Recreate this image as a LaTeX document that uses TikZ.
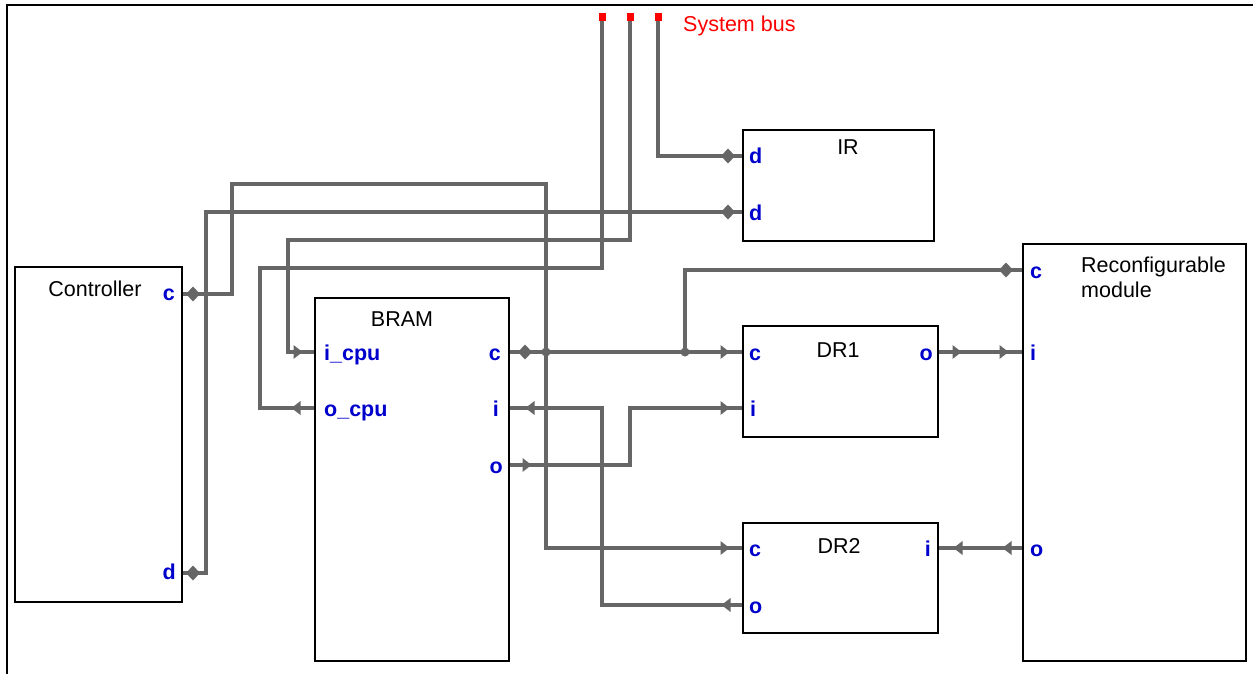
\documentclass[tikz,border=0pt]{standalone}
\usepackage{fontspec}
\setmainfont{Liberation Sans}
\usetikzlibrary{calc}
\definecolor{wiregray}{RGB}{102,102,102}
\definecolor{portblue}{RGB}{0,0,204}
\definecolor{busred}{RGB}{255,0,0}

\begin{document}
\begin{tikzpicture}[x=1pt, y=-1pt,
	blk/.style={draw, line width=2pt, rectangle, inner sep=0pt, anchor=north west},
	blkname/.style={font=\fontsize{21.5}{25}\selectfont, inner sep=0pt, anchor=base},
	portl/.style={font=\fontsize{21.5}{25}\selectfont\bfseries, text=portblue, inner sep=0pt, anchor=base west},
	portr/.style={portl, anchor=base east},
	wire/.style={draw=wiregray, line width=4.2pt},
	busend/.style={fill=busred, minimum width=7pt, minimum height=8pt, inner sep=0pt},
	rarr/.pic={\fill[wiregray] (-4.5,-7) -- (4.5,0) -- (-4.5,7) -- cycle;},
	larr/.pic={\fill[wiregray] (4.5,-7) -- (-4.5,0) -- (4.5,7) -- cycle;},
	dmd/.pic={\fill[wiregray] (-7,0) -- (0,-7.5) -- (7,0) -- (0,7.5) -- cycle;}]
	\useasboundingbox (0,0) rectangle (1253,674);

	% Frame
	\draw[line width=2pt] (7,674) -- (7,5) -- (1253,5);

	% Blocks
	\node[blk, minimum width=167pt, minimum height=335pt] (ctrl) at (14,266) {};
	\node[blk, minimum width=194pt, minimum height=363pt] (bram) at (314,297) {};
	\node[blk, minimum width=191pt, minimum height=111pt] (ir) at (742,129) {};
	\node[blk, minimum width=195pt, minimum height=111pt] (dr1) at (742,325) {};
	\node[blk, minimum width=195pt, minimum height=110pt] (dr2) at (742,522) {};
	\node[blk, minimum width=223pt, minimum height=417pt] (rm) at (1022,243) {};

	% Block names
	\node[blkname] (ctrl-name) at (95,296) {Controller};
	\node[blkname] (bram-name) at (402,326) {BRAM};
	\node[blkname] (ir-name) at (848,154) {IR};
	\node[blkname] (dr1-name) at (838,357) {DR1};
	\node[blkname] (dr2-name) at (839,553) {DR2};
	\node[blkname, anchor=base west, align=left] (rm-name) at (1081,297) {Reconfigurable\\module};

	% System bus
	\node[busend] (bus1) at (602,17) {};
	\node[busend] (bus2) at (630,17) {};
	\node[busend] (bus3) at (658,17) {};
	\node[blkname, anchor=base west, text=busred] (bus-name) at (683,32) {System bus};

	% Ports
	\coordinate (ctrl-c) at (ctrl.east |- 0,294);
	\coordinate (ctrl-d) at (ctrl.east |- 0,573);
	\coordinate (bram-icpu) at (bram.west |- 0,352);
	\coordinate (bram-ocpu) at (bram.west |- 0,408);
	\coordinate (bram-c) at (bram.east |- 0,352);
	\coordinate (bram-i) at (bram.east |- 0,408);
	\coordinate (bram-o) at (bram.east |- 0,465);
	\coordinate (ir-d1) at (ir.west |- 0,156);
	\coordinate (ir-d2) at (ir.west |- 0,212);
	\coordinate (dr1-c) at (dr1.west |- 0,352);
	\coordinate (dr1-i) at (dr1.west |- 0,408);
	\coordinate (dr1-o) at (dr1.east |- 0,352);
	\coordinate (dr2-c) at (dr2.west |- 0,548);
	\coordinate (dr2-o) at (dr2.west |- 0,605);
	\coordinate (dr2-i) at (dr2.east |- 0,548);
	\coordinate (rm-c) at (rm.west |- 0,270);
	\coordinate (rm-i) at (rm.west |- 0,352);
	\coordinate (rm-o) at (rm.west |- 0,548);
	\coordinate (j1) at (546,352);
	\coordinate (j2) at (685,352);

	% Port labels
	\node[portr] (ctrl-cl) at ($(ctrl-c)+(-8,6)$) {c};
	\node[portr] (ctrl-dl) at ($(ctrl-d)+(-7,6)$) {d};
	\node[portl] (bram-icpul) at ($(bram-icpu)+(10,8)$) {i\_cpu};
	\node[portl] (bram-ocpul) at ($(bram-ocpu)+(10,8)$) {o\_cpu};
	\node[portr] (bram-cl) at ($(bram-c)+(-9,8)$) {c};
	\node[portr] (bram-il) at ($(bram-i)+(-11,8)$) {i};
	\node[portr] (bram-ol) at ($(bram-o)+(-7,8)$) {o};
	\node[portl] (ir-d1l) at ($(ir-d1)+(7,8)$) {d};
	\node[portl] (ir-d2l) at ($(ir-d2)+(7,8)$) {d};
	\node[portl] (dr1-cl) at ($(dr1-c)+(7,8)$) {c};
	\node[portl] (dr1-il) at ($(dr1-i)+(8,8)$) {i};
	\node[portr] (dr1-ol) at ($(dr1-o)+(-6,8)$) {o};
	\node[portl] (dr2-cl) at ($(dr2-c)+(7,8)$) {c};
	\node[portl] (dr2-ol) at ($(dr2-o)+(7,8)$) {o};
	\node[portr] (dr2-il) at ($(dr2-i)+(-8,8)$) {i};
	\node[portl] (rm-cl) at ($(rm-c)+(8,8)$) {c};
	\node[portl] (rm-il) at ($(rm-i)+(8,8)$) {i};
	\node[portl] (rm-ol) at ($(rm-o)+(8,8)$) {o};

	% Wires
	\draw[wire] (bus3.south) |- (ir-d1);
	\draw[wire] (bus2.south) |- (288,240) |- (bram-icpu);
	\draw[wire] (bus1.south) |- (260,268) |- (bram-ocpu);
	\draw[wire] (ctrl-c) -| (232,184) -| (546,548) -- (dr2-c);
	\draw[wire] (ctrl-d) -| (206,212) -- (ir-d2);
	\draw[wire] (bram-c) -- (dr1-c);
	\draw[wire] (j2) |- (rm-c);
	\draw[wire] (bram-i) -| (602,605) -- (dr2-o);
	\draw[wire] (bram-o) -| (630,408) -- (dr1-i);
	\draw[wire] (dr1-o) -- (rm-i);
	\draw[wire] (rm-o) -- (dr2-i);
	\fill[wiregray] (j1) circle (4.5) (j2) circle (4.5);

	% Port markers
	\pic at ($(ctrl-c)+(10,0)$) {dmd};
	\pic at ($(ctrl-d)+(10,0)$) {dmd};
	\pic at ($(ir-d1)+(-14,0)$) {dmd};
	\pic at ($(ir-d2)+(-14,0)$) {dmd};
	\pic at ($(bram-c)+(15,0)$) {dmd};
	\pic at ($(rm-c)+(-16,0)$) {dmd};
	\pic at ($(bram-icpu)+(-16,0)$) {rarr};
	\pic at ($(bram-ocpu)+(-18,0)$) {larr};
	\pic at ($(bram-i)+(20,0)$) {larr};
	\pic at ($(bram-o)+(17,0)$) {rarr};
	\pic at ($(dr1-c)+(-17,0)$) {rarr};
	\pic at ($(dr1-i)+(-17,0)$) {rarr};
	\pic at ($(dr2-c)+(-17,0)$) {rarr};
	\pic at ($(dr2-o)+(-16,0)$) {larr};
	\pic at ($(dr1-o)+(18,0)$) {rarr};
	\pic at ($(rm-i)+(-18,0)$) {rarr};
	\pic at ($(dr2-i)+(19,0)$) {larr};
	\pic at ($(rm-o)+(-15,0)$) {larr};
\end{tikzpicture}
\end{document}
